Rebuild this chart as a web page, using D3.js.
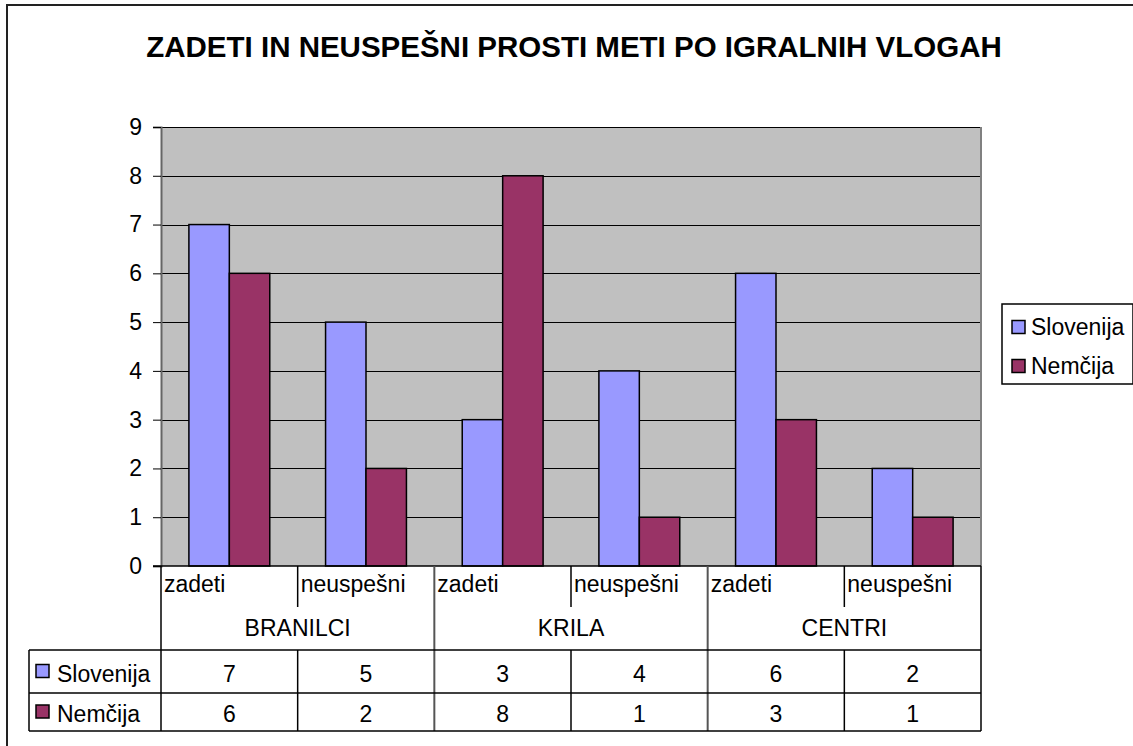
<!DOCTYPE html>
<html>
<head>
<meta charset="utf-8">
<script src="https://cdn.jsdelivr.net/npm/d3@7/dist/d3.min.js"></script>
<style>
  html, body { margin: 0; padding: 0; background: #fff; }
  svg { display: block; }
  text { font-family: "Liberation Sans", Arial, sans-serif; fill: #000; }
</style>
</head>
<body>
<svg id="chart" width="1133" height="746"></svg>
<script>
const title = "ZADETI IN NEUSPEŠNI PROSTI METI PO IGRALNIH VLOGAH";
const groups = ["BRANILCI", "KRILA", "CENTRI"];
const subcategories = ["zadeti", "neuspešni"];
const seriesNames = ["Slovenija", "Nemčija"];
const slovenija = [7, 5, 3, 4, 6, 2];
const nemcija = [6, 2, 8, 1, 3, 1];
const yTicks = [0, 1, 2, 3, 4, 5, 6, 7, 8, 9];
const colors = ["#9999FF", "#993366"];

const svg = d3.select("#chart");
const W = 1133, H = 746;
const plot = { left: 161, right: 981, top: 127, bottom: 566 };
const tbl = { left: 29, catBottom: 607, row1: 650, row2: 693, row3: 731 };
const fontSize = 23;

// outer chart border (top & left visible)
svg.append("path")
  .attr("d", `M7,${H} L7,5 L${W},5`)
  .attr("fill", "none").attr("stroke", "#222").attr("stroke-width", 2);

// title
svg.append("text")
  .attr("x", 574).attr("y", 57)
  .attr("text-anchor", "middle")
  .attr("font-weight", "bold")
  .attr("font-size", 29.5)
  .text(title);

// categories (flattened)
const cats = [];
groups.forEach(g => subcategories.forEach(s => cats.push({ group: g, sub: s, key: g + "|" + s })));
const rows = cats.map((c, i) => ({ ...c, values: [slovenija[i], nemcija[i]] }));

const x0 = d3.scaleBand().domain(cats.map(c => c.key)).range([plot.left, plot.right]).padding(0);
const x1 = d3.scaleBand().domain(seriesNames).range([0, x0.bandwidth()]).paddingInner(0).paddingOuter(0.69);
const y = d3.scaleLinear().domain([0, 9]).range([plot.bottom, plot.top]);

// plot area
svg.append("rect")
  .attr("x", plot.left).attr("y", plot.top)
  .attr("width", plot.right - plot.left).attr("height", plot.bottom - plot.top)
  .attr("fill", "#C0C0C0");

// gridlines
svg.append("g").selectAll("line").data(yTicks.filter(t => t > 0)).join("line")
  .attr("x1", plot.left).attr("x2", plot.right)
  .attr("y1", d => Math.round(y(d)) + 0.5).attr("y2", d => Math.round(y(d)) + 0.5)
  .attr("stroke", "#000").attr("stroke-width", 1);

// plot right border
svg.append("line")
  .attr("x1", plot.right).attr("x2", plot.right)
  .attr("y1", plot.top).attr("y2", plot.bottom)
  .attr("stroke", "#808080").attr("stroke-width", 2);

// bars
const gBars = svg.append("g");
rows.forEach(r => {
  gBars.selectAll(null).data(r.values.map((v, i) => ({ v, s: seriesNames[i], i }))).join("rect")
    .attr("x", d => x0(r.key) + x1(d.s))
    .attr("y", d => y(d.v))
    .attr("width", x1.bandwidth())
    .attr("height", d => y(0) - y(d.v))
    .attr("fill", d => colors[d.i])
    .attr("stroke", "#000").attr("stroke-width", 1.5);
});

// y axis
const yAxis = d3.axisLeft(y).tickValues(yTicks).tickSize(8).tickPadding(11).tickFormat(d3.format("d"));
const gy = svg.append("g").attr("transform", `translate(${plot.left},0)`).call(yAxis);
gy.select(".domain").attr("stroke", "#666").attr("stroke-width", 2);
gy.selectAll(".tick line").attr("stroke", "#000");
gy.selectAll(".tick text").attr("font-size", fontSize)
  .attr("font-family", '"Liberation Sans", Arial, sans-serif').attr("fill", "#000");

// x axis baseline
svg.append("line")
  .attr("x1", plot.left - 8).attr("x2", plot.right)
  .attr("y1", plot.bottom).attr("y2", plot.bottom)
  .attr("stroke", "#000").attr("stroke-width", 1.5);

// ---- category area + data table ----
const gt = svg.append("g").attr("stroke", "#000").attr("stroke-width", 1.5);
const groupEdges = [plot.left];
groups.forEach(g => {
  const lastKey = g + "|" + subcategories[subcategories.length - 1];
  groupEdges.push(x0(lastKey) + x0.bandwidth());
});
gt.selectAll(".ge").data(groupEdges).join("line")
  .attr("x1", d => d).attr("x2", d => d)
  .attr("y1", plot.bottom).attr("y2", tbl.row3)
  .attr("stroke", (d, i) => (i === 0 || i === groupEdges.length - 1) ? "#000" : "#555")
  .attr("stroke-width", (d, i) => (i === 0 || i === groupEdges.length - 1) ? 1.5 : 2);
const subEdges = cats.filter(c => c.sub !== subcategories[0]).map(c => x0(c.key));
gt.selectAll(".se").data(subEdges).join("line")
  .attr("x1", d => d).attr("x2", d => d)
  .attr("y1", plot.bottom).attr("y2", tbl.catBottom);
gt.selectAll(".se2").data(subEdges).join("line")
  .attr("x1", d => d).attr("x2", d => d)
  .attr("y1", tbl.row1).attr("y2", tbl.row3);
gt.selectAll(".hr").data([tbl.row1, tbl.row2, tbl.row3]).join("line")
  .attr("x1", tbl.left).attr("x2", plot.right)
  .attr("y1", d => d).attr("y2", d => d);
gt.append("line")
  .attr("x1", tbl.left).attr("x2", tbl.left)
  .attr("y1", tbl.row1).attr("y2", tbl.row3);

// sub labels
svg.append("g").selectAll("text").data(cats).join("text")
  .attr("x", d => x0(d.key) + 3).attr("y", 592)
  .attr("font-size", fontSize)
  .text(d => d.sub);
// group labels
svg.append("g").selectAll("text").data(groups).join("text")
  .attr("x", (d, i) => (groupEdges[i] + groupEdges[i + 1]) / 2).attr("y", 636)
  .attr("text-anchor", "middle")
  .attr("font-size", fontSize)
  .text(d => d);

// table values
const rowBase = [682, 722];
const rowMid = [671.5, 712];
[slovenija, nemcija].forEach((arr, si) => {
  svg.append("g").selectAll("text").data(arr).join("text")
    .attr("x", (d, i) => x0(cats[i].key) + x0.bandwidth() / 2)
    .attr("y", rowBase[si])
    .attr("text-anchor", "middle")
    .attr("font-size", fontSize)
    .text(d => d);
  svg.append("rect")
    .attr("x", 36).attr("y", rowMid[si] - 7).attr("width", 13).attr("height", 13)
    .attr("fill", colors[si]).attr("stroke", "#000").attr("stroke-width", 1.5);
  svg.append("text")
    .attr("x", 57).attr("y", rowBase[si])
    .attr("font-size", fontSize)
    .text(seriesNames[si]);
});

// legend
const leg = { x: 1002, y: 304, w: 131, h: 80 };
svg.append("rect")
  .attr("x", leg.x).attr("y", leg.y).attr("width", leg.w).attr("height", leg.h)
  .attr("fill", "#fff").attr("stroke", "#000").attr("stroke-width", 1.5);
const legMid = [327, 366];
seriesNames.forEach((s, i) => {
  svg.append("rect")
    .attr("x", 1012).attr("y", legMid[i] - 6.5).attr("width", 13).attr("height", 13)
    .attr("fill", colors[i]).attr("stroke", "#000").attr("stroke-width", 1.5);
  svg.append("text")
    .attr("x", 1031).attr("y", legMid[i] + 8)
    .attr("font-size", fontSize)
    .text(s);
});
</script>
</body>
</html>
